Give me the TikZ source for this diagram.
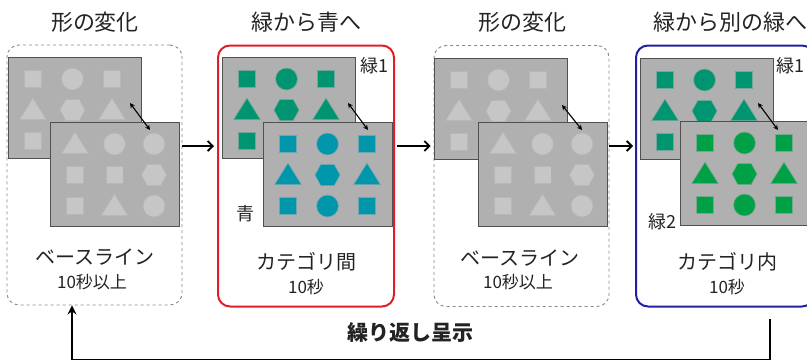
\documentclass[tikz,border=0pt]{standalone}
\usepackage{fontspec}
\newfontfamily\jp{Noto Sans CJK JP}
\usetikzlibrary{arrows.meta}
\definecolor{gbg}{RGB}{176,176,176}
\definecolor{gedge}{RGB}{80,80,80}
\definecolor{gshape}{RGB}{198,198,198}
\definecolor{tealg}{RGB}{0,148,112}
\definecolor{cyanb}{RGB}{0,150,172}
\definecolor{brightg}{RGB}{0,160,70}
\definecolor{redb}{RGB}{222,32,38}
\definecolor{blueb}{RGB}{32,32,160}
\definecolor{dashc}{RGB}{135,135,135}
\definecolor{txt}{RGB}{35,35,35}
\tikzset{
  sq/.pic={\path[fill,draw,draw opacity=0.35,line width=1.6pt] (-8,-8) rectangle (8,8);},
  ci/.pic={\path[fill,draw,draw opacity=0.35,line width=1.6pt] (0,0) circle (10.5);},
  tr/.pic={\path[fill,draw,draw opacity=0.35,line width=1.6pt] (0,-11) -- (12.5,9) -- (-12.5,9) -- cycle;},
  hx/.pic={\path[fill,draw,draw opacity=0.35,line width=1.6pt] (-12,0) -- (-6.5,-10) -- (6.5,-10) -- (12,0) -- (6.5,10) -- (-6.5,10) -- cycle;},
  panelbox/.style={rectangle, rounded corners=12pt, minimum width=176pt, minimum height=261pt, inner sep=0pt},
  basebox/.style={panelbox, draw=dashc, dashed, line width=0.9pt},
  redbox/.style={panelbox, draw=redb, line width=2pt},
  bluebox/.style={panelbox, draw=blueb, line width=2pt},
  backrect/.style={rectangle, anchor=north west, fill=gbg, draw=gedge, line width=1pt, minimum width=133pt, minimum height=101pt, inner sep=0pt},
  frontrect/.style={backrect, minimum width=129pt, minimum height=104pt},
  title/.style={font=\jp\fontsize{22}{24}\selectfont, text=txt},
  lab/.style={font=\jp\fontsize{20}{24}\selectfont, text=txt},
  sublab/.style={font=\jp\fontsize{17}{19}\selectfont, text=txt},
  tag/.style={font=\jp\fontsize{18}{20}\selectfont, text=txt},
  flow/.style={-{Straight Barb[length=5pt,width=10pt]}, line width=1.8pt},
  dbl/.style={{Stealth[length=5pt,width=5pt]}-{Stealth[length=5pt,width=5pt]}, line width=1.1pt},
  loopline/.style={-{Stealth[length=9pt,width=9pt,inset=3pt]}, line width=1.8pt},
}
\newcommand\stimgrid[4]{%
  \foreach \s [count=\i from 0] in {#4} {
    \pgfmathtruncatemacro\cc{mod(\i,3)}
    \pgfmathtruncatemacro\rr{\i/3}
    \pic[color=#3] at ({#1+25+39.5*\cc},{#2+22+31*\rr}) {\s};
  }}
\begin{document}
\begin{tikzpicture}[x=1pt,y=-1pt]
\useasboundingbox (0,0) rectangle (807,362);
\clip (0,0) rectangle (807,362);
% titles
\node[title] (t1) at (95,22) {形の変化};
\node[title] (t2) at (306,22) {緑から青へ};
\node[title] (t3) at (522,22) {形の変化};
\node[title] (t4) at (730,22) {緑から別の緑へ};
% panels
\node[basebox, minimum width=175pt, minimum height=260pt] (p1) at (94.5,175) {};
\node[redbox] (p2) at (306,176) {};
\node[basebox, minimum width=175pt] (p3) at (521.5,176) {};
\node[bluebox, minimum width=178pt] (p4) at (725,176) {};
% panel 1
\node[backrect] (p1b) at (8,57) {};
\stimgrid{8}{57}{gshape}{sq,ci,sq,tr,hx,tr,sq,sq,ci}
\node[frontrect] (p1f) at (50,122) {};
\stimgrid{50}{122}{gshape}{tr,ci,ci,sq,sq,hx,sq,tr,ci}
\coordinate (p1ds) at (130,103);
\coordinate (p1de) at (150,130);
\draw[dbl] (p1ds) -- (p1de);
% panel 2
\node[backrect] (p2b) at (222,57) {};
\stimgrid{222}{57}{tealg}{sq,ci,sq,tr,hx,tr,sq,ci,sq}
\node[frontrect] (p2f) at (263,122) {};
\stimgrid{263}{122}{cyanb}{sq,ci,sq,tr,hx,tr,sq,ci,sq}
\coordinate (p2ds) at (348,103);
\coordinate (p2de) at (368,130);
\draw[dbl] (p2ds) -- (p2de);
\node[tag] (g1a) at (374,66) {緑1};
\node[tag] (bl) at (245,214) {青};
% panel 3
\node[backrect] (p3b) at (434,58) {};
\stimgrid{434}{58}{gshape}{sq,ci,sq,tr,hx,tr,sq,sq,ci}
\node[frontrect] (p3f) at (478,122) {};
\stimgrid{478}{122}{gshape}{tr,ci,ci,sq,sq,hx,sq,tr,ci}
\coordinate (p3ds) at (562,105);
\coordinate (p3de) at (582,130);
\draw[dbl] (p3ds) -- (p3de);
% panel 4
\node[backrect] (p4b) at (640,58) {};
\stimgrid{640}{58}{tealg}{sq,ci,sq,tr,hx,tr,sq,ci,sq}
\node[frontrect] (p4f) at (680,121) {};
\stimgrid{680}{121}{brightg}{sq,ci,sq,tr,hx,tr,sq,ci,sq}
\coordinate (p4ds) at (758,103);
\coordinate (p4de) at (778,130);
\draw[dbl] (p4ds) -- (p4de);
\node[tag] (g1b) at (790,66) {緑1};
\node[tag] (g2) at (662,222) {緑2};
% labels
\node[lab] (l1) at (95,257) {ベースライン};
\node[sublab] (s1) at (92,282) {10秒以上};
\node[lab] (l2) at (306,262) {カテゴリ間};
\node[sublab] (s2) at (306,287) {10秒};
\node[lab] (l3) at (520,258) {ベースライン};
\node[sublab] (s3) at (518,282) {10秒以上};
\node[lab] (l4) at (727,262) {カテゴリ内};
\node[sublab] (s4) at (727,287) {10秒};
% flow arrows
\coordinate (arow) at (0,146);
\draw[flow] (p1.east |- arow) -- ([xshift=-3pt]p2.west |- arow);
\draw[flow] ([xshift=2pt]p2.east |- arow) -- ([xshift=-3pt]p3.west |- arow);
\draw[flow] (p3.east |- arow) -- ([xshift=-2pt]p4.west |- arow);
% loop back
\coordinate (loopstart) at (770,319);
\coordinate (loopbottom) at (0,359.5);
\coordinate (loopend) at (72,0 |- p1.south);
\draw[loopline] (loopstart) -- (loopstart |- loopbottom) -- (loopend |- loopbottom) -- (loopend);
\node[font=\jp\bfseries\fontsize{21}{24}\selectfont, text=txt] (rep) at (410,333) {繰り返し呈示};
\end{tikzpicture}
\end{document}
